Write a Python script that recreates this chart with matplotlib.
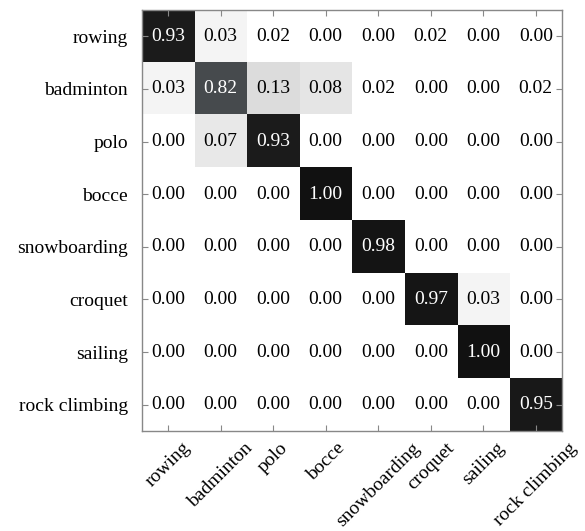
import numpy as np
import matplotlib
matplotlib.use("Agg")
import matplotlib.pyplot as plt
from matplotlib.colors import LinearSegmentedColormap

classes = ["rowing", "badminton", "polo", "bocce",
           "snowboarding", "croquet", "sailing", "rock climbing"]

row_rowing = [0.93, 0.03, 0.02, 0.00, 0.00, 0.02, 0.00, 0.00]
row_badminton = [0.03, 0.82, 0.13, 0.08, 0.02, 0.00, 0.00, 0.02]
row_polo = [0.00, 0.07, 0.93, 0.00, 0.00, 0.00, 0.00, 0.00]
row_bocce = [0.00, 0.00, 0.00, 1.00, 0.00, 0.00, 0.00, 0.00]
row_snowboarding = [0.00, 0.00, 0.00, 0.00, 0.98, 0.00, 0.00, 0.00]
row_croquet = [0.00, 0.00, 0.00, 0.00, 0.00, 0.97, 0.03, 0.00]
row_sailing = [0.00, 0.00, 0.00, 0.00, 0.00, 0.00, 1.00, 0.00]
row_rock_climbing = [0.00, 0.00, 0.00, 0.00, 0.00, 0.00, 0.00, 0.95]

cm = np.array([row_rowing, row_badminton, row_polo, row_bocce,
               row_snowboarding, row_croquet, row_sailing, row_rock_climbing])

plt.rcParams["font.family"] = ["Liberation Serif", "DejaVu Serif"]

# grey ramp for the normalised counts
cmap = LinearSegmentedColormap.from_list(
    "cm_greys",
    [(0.0, "#ffffff"), (0.02, "#ffffff"), (0.03, "#f1f1f1"), (0.08, "#e5e5e5"),
     (0.13, "#dcdcdc"), (0.82, "#464a4d"), (0.93, "#1c1c1c"), (1.0, "#111111")])

fig = plt.figure(figsize=(5.85, 5.31), dpi=100)
ax = fig.add_axes([0.2427, 0.1883, 0.7180, 0.7929])
ax.imshow(cm, cmap=cmap, vmin=0, vmax=1, interpolation="nearest", aspect="auto")

n = len(classes)
for i in range(n):
    for j in range(n):
        v = cm[i, j]
        ax.text(j, i, f"{v:.2f}", ha="center", va="center", fontsize=14,
                color="white" if v > 0.5 else "black")

ax.set_xticks(range(n))
ax.set_yticks(range(n))
ax.set_xticklabels(classes, rotation=45, ha="center", fontsize=14)
ax.set_yticklabels(classes, fontsize=14)
ax.tick_params(direction="in", length=4, width=0.8, color="#888888",
               top=True, right=True, pad=10)
ax.tick_params(axis="x", pad=6)
for s in ax.spines.values():
    s.set_color("#888888")
    s.set_linewidth(1.0)

fig.savefig("out.png", dpi=100)
